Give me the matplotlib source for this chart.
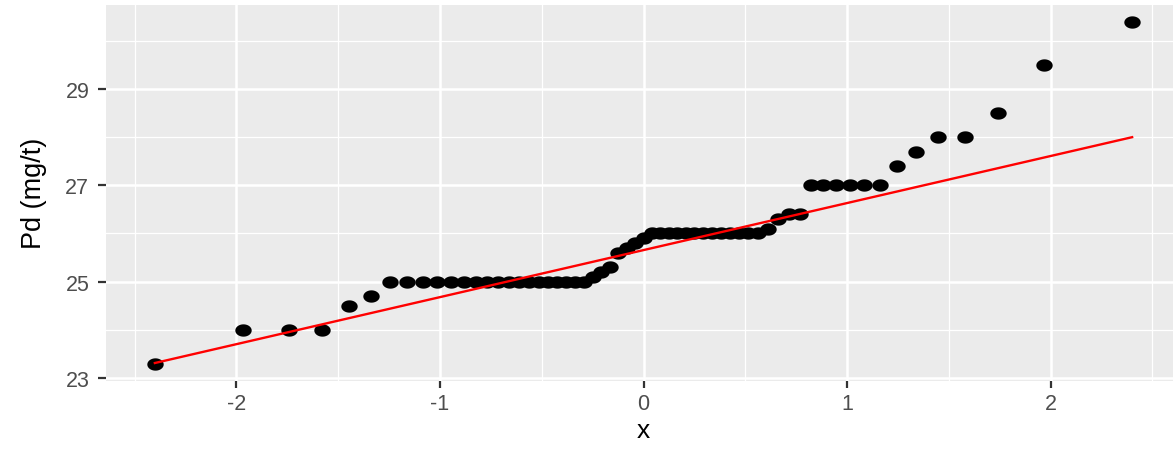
import numpy as np
import matplotlib
matplotlib.use("Agg")
import matplotlib.pyplot as plt
from matplotlib.path import Path
from statistics import NormalDist

# Sample values (sorted)
pd_values = [23.3, 24.0, 24.0, 24.0, 24.5, 24.7,
             25.0, 25.0, 25.0, 25.0, 25.0, 25.0, 25.0, 25.0, 25.0,
             25.0, 25.0, 25.0, 25.0, 25.0, 25.0, 25.0, 25.0, 25.0,
             25.1, 25.2, 25.3, 25.6, 25.7, 25.8, 25.9,
             26.0, 26.0, 26.0, 26.0, 26.0, 26.0, 26.0, 26.0, 26.0,
             26.0, 26.0, 26.0, 26.0,
             26.1, 26.3, 26.4, 26.4,
             27.0, 27.0, 27.0, 27.0, 27.0, 27.0,
             27.4, 27.7, 28.0, 28.0, 28.5, 29.5, 30.4]

# Reference line
line_intercept = 25.655
line_slope = 0.977

x_ticks = [-2, -1, 0, 1, 2]
y_ticks = [23, 25, 27, 29]
x_label = "x"
y_label = "Pd (mg/t)"

n = len(pd_values)
nd = NormalDist()
theo = np.array([nd.inv_cdf((i - 0.5) / n) for i in range(1, n + 1)])
sample = np.sort(np.array(pd_values))

W, H = 1173, 452
plt.rcParams['font.family'] = ['Liberation Sans', 'DejaVu Sans']
fig = plt.figure(figsize=(W / 100, H / 100), dpi=100)

left_px, right_px, top_px, bottom_px = 106, 1181, 5.5, 381.6
ax = fig.add_axes([left_px / W, 1 - bottom_px / H,
                   (right_px - left_px) / W, (bottom_px - top_px) / H])
ax.set_facecolor('#EBEBEB')

# grid
ax.set_xticks(x_ticks)
ax.set_yticks(y_ticks)
ax.set_xticks([t + 0.5 for t in [-3] + x_ticks], minor=True)
ax.set_yticks([t + 1 for t in [21] + y_ticks], minor=True)
ax.grid(which='major', color='white', linewidth=1.8)
ax.grid(which='minor', color='white', linewidth=0.9)
ax.set_axisbelow(True)
for s in ax.spines.values():
    s.set_visible(False)

xr = theo.max() - theo.min()
yr = sample.max() - sample.min()
ax.set_xlim(theo.min() - 0.05 * xr, theo.max() + 0.05 * xr)
ax.set_ylim(sample.min() - 0.05 * yr, sample.max() + 0.05 * yr)

ax.tick_params(axis='both', which='major', color='#333333', width=1.6,
               labelsize=15.5, labelcolor='#4D4D4D')
ax.tick_params(axis='y', which='major', length=6, pad=6)
ax.tick_params(axis='x', which='major', length=5, pad=4)
ax.tick_params(which='minor', length=0)
ax.set_xticklabels([f"{t}" for t in x_ticks])
ax.set_yticklabels([f"{t}" for t in y_ticks])

# qq line
xl = np.array([theo.min(), theo.max()])
ax.plot(xl, line_intercept + line_slope * xl, color='#FF0000', lw=1.7, zorder=3)

# elliptical points
t = np.linspace(0, 2 * np.pi, 60)
ell = Path(np.column_stack([1.33 * np.cos(t), np.sin(t)]), closed=True)
ax.scatter(theo, sample, marker=ell, s=11.8 ** 2, color='black',
           linewidths=0, zorder=2)

ax.set_xlabel(x_label, fontsize=19, color='black', labelpad=3)
ax.set_ylabel(y_label, fontsize=19.5, color='black', labelpad=13)

fig.savefig('out.png', dpi=100)
